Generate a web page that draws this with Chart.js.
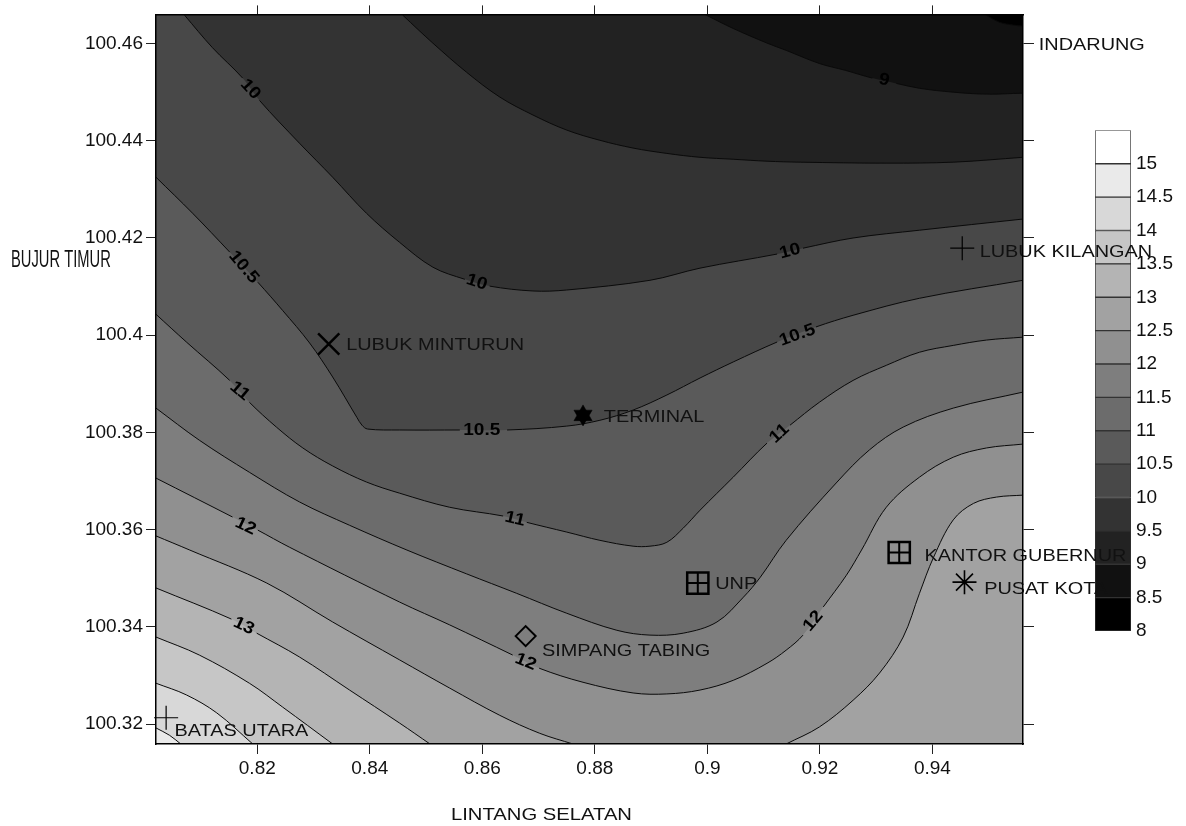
<!DOCTYPE html>
<html>
<head>
<meta charset="utf-8">
<title>Kontur</title>
<script src="https://cdn.jsdelivr.net/npm/chart.js@4"></script>
<style>
  body { margin: 0; background: #fff; }
  #wrap { position: relative; width: 1186px; height: 826px; }
  #legend-bar { position: absolute; left: 1085px; top: 114px; z-index: 0; }
  #contour { position: absolute; left: 0; top: 0; z-index: 1; }
</style>
</head>
<body>
<div id="wrap">
  <canvas id="legend-bar" width="101" height="536"></canvas>
  <canvas id="contour" width="1186" height="826"></canvas>
</div>
<script>
// axis ranges and ticks
const xMin = 0.802, xMax = 0.9561, yMin = 100.3159, yMax = 100.466;
const xTicks = [0.82, 0.84, 0.86, 0.88, 0.9, 0.92, 0.94];
const yTicks = [100.32, 100.34, 100.36, 100.38, 100.4, 100.42, 100.44, 100.46];

// contour lines [x, y]
// lines leaving through the top run on a little above the frame, the clip cuts them
const contour8 = [[0.802, 100.466], [0.9561, 100.466]];
const contour85 = [[0.802, 100.4673], [0.9473, 100.4673], [0.9496, 100.4658], [0.9519, 100.4644], [0.9544, 100.4638], [0.9561, 100.4636]];
const contour9 = [[0.802, 100.4673], [0.8975, 100.4673], [0.8999, 100.4658], [0.9046, 100.4631], [0.9106, 100.4601], [0.914, 100.4586], [0.9199, 100.4559], [0.9245, 100.4545], [0.9293, 100.4529], [0.9336, 100.4518], [0.9377, 100.4508], [0.9437, 100.45], [0.9496, 100.4496], [0.9561, 100.4498]];
const contour95 = [[0.802, 100.4673], [0.8446, 100.4673], [0.8459, 100.4658], [0.8512, 100.4601], [0.8572, 100.4541], [0.8631, 100.449], [0.869, 100.4453], [0.875, 100.4422], [0.8809, 100.4401], [0.8868, 100.4385], [0.8928, 100.4374], [0.8987, 100.4366], [0.9046, 100.4362], [0.9106, 100.4358], [0.9165, 100.4356], [0.9318, 100.4354], [0.9437, 100.4356], [0.9561, 100.4366]];
const contour10 = [[0.802, 100.4673], [0.806, 100.4673], [0.8071, 100.4658], [0.812, 100.4592], [0.8174, 100.4529], [0.8204, 100.4483], [0.8275, 100.4395], [0.8334, 100.4325], [0.8394, 100.4251], [0.8453, 100.4191], [0.8512, 100.414], [0.8569, 100.4115], [0.8613, 100.4101], [0.869, 100.4091], [0.875, 100.4093], [0.8898, 100.4113], [0.8987, 100.4138], [0.9124, 100.4167], [0.917, 100.4179], [0.9259, 100.42], [0.9377, 100.4216], [0.9561, 100.4239]];
const contour105 = [[0.802, 100.4325], [0.8085, 100.4251], [0.8151, 100.4171], [0.8201, 100.4109], [0.8245, 100.4051], [0.8293, 100.3984], [0.8334, 100.3914], [0.8377, 100.3831], [0.8386, 100.3815], [0.8396, 100.3807], [0.8453, 100.3805], [0.856, 100.3805], [0.8644, 100.3805], [0.875, 100.3813], [0.8809, 100.3825], [0.8868, 100.3846], [0.8928, 100.3877], [0.8987, 100.3912], [0.9046, 100.3945], [0.9124, 100.3986], [0.9193, 100.4017], [0.9259, 100.4041], [0.9377, 100.4076], [0.9561, 100.4113]];
const contour11 = [[0.802, 100.4043], [0.8074, 100.3986], [0.8151, 100.3907], [0.8186, 100.3862], [0.8234, 100.3811], [0.8281, 100.3768], [0.8334, 100.3731], [0.8394, 100.3698], [0.8453, 100.3675], [0.8542, 100.3646], [0.8637, 100.3628], [0.8679, 100.3615], [0.875, 100.3595], [0.8809, 100.3578], [0.8868, 100.3566], [0.8898, 100.3566], [0.8928, 100.3574], [0.8957, 100.3603], [0.8987, 100.364], [0.9046, 100.3708], [0.9106, 100.3778], [0.9147, 100.3815], [0.9199, 100.3862], [0.9259, 100.3907], [0.9318, 100.3938], [0.9377, 100.3965], [0.9437, 100.3979], [0.9496, 100.399], [0.9561, 100.3996]];
const contour115 = [[0.802, 100.385], [0.8097, 100.3784], [0.8186, 100.3718], [0.8275, 100.3657], [0.8364, 100.3609], [0.8466, 100.3558], [0.8572, 100.3509], [0.8661, 100.3469], [0.875, 100.3428], [0.8839, 100.3393], [0.8898, 100.3383], [0.8957, 100.3387], [0.9017, 100.341], [0.9064, 100.3461], [0.9094, 100.3502], [0.914, 100.3578], [0.9229, 100.3696], [0.9288, 100.3764], [0.9348, 100.3811], [0.9437, 100.385], [0.9561, 100.3883]];
const contour12 = [[0.802, 100.3706], [0.8156, 100.3626], [0.8201, 100.3599], [0.8257, 100.3564], [0.8453, 100.3451], [0.8542, 100.3404], [0.8654, 100.3342], [0.8701, 100.3315], [0.8779, 100.3286], [0.8868, 100.3264], [0.8928, 100.3262], [0.8987, 100.327], [0.9046, 100.329], [0.9106, 100.3325], [0.914, 100.3352], [0.917, 100.3383], [0.9206, 100.3441], [0.9247, 100.3506], [0.9274, 100.3558], [0.9318, 100.3646], [0.9377, 100.3708], [0.9437, 100.3749], [0.9496, 100.3768], [0.9561, 100.3776]];
const contour125West = [[0.802, 100.3587], [0.808, 100.3558], [0.8217, 100.349], [0.8334, 100.341], [0.8453, 100.3332], [0.8542, 100.3274], [0.8631, 100.3218], [0.8702, 100.3181], [0.8761, 100.3159]];
const contour125East = [[0.914, 100.3159], [0.9199, 100.3194], [0.9259, 100.3249], [0.9306, 100.3305], [0.9348, 100.3379], [0.9377, 100.3469], [0.9402, 100.3543], [0.9437, 100.362], [0.9473, 100.3654], [0.9514, 100.3667], [0.9561, 100.3671]];
const contour13 = [[0.802, 100.348], [0.8154, 100.3416], [0.8199, 100.3387], [0.8275, 100.3338], [0.8364, 100.327], [0.8453, 100.3202], [0.8507, 100.3159]];
const contour135 = [[0.802, 100.3379], [0.8097, 100.3342], [0.8186, 100.3284], [0.8245, 100.3235], [0.8334, 100.3159]];
const contour14 = [[0.802, 100.3284], [0.8074, 100.326], [0.8128, 100.3223], [0.8192, 100.3159]];
const contour145 = [[0.802, 100.3192], [0.8044, 100.3177], [0.8064, 100.3159]];

const contourLines = [contour85, contour9, contour95, contour10, contour105, contour11, contour115, contour12, contour125West, contour125East, contour13, contour135, contour14, contour145];
const contourFills = ['#111111', '#222222', '#333333', '#484848', '#5a5a5a', '#6c6c6c', '#7e7e7e', '#909090', '#a2a2a2', '#a2a2a2', '#b4b4b4', '#c6c6c6', '#d8d8d8', '#eaeaea'];

// labels sitting on the contour lines
const lineLabels = ['10', '10.5', '10', '9', '10', '10.5', '10.5', '11', '11', '11', '12', '12', '12', '13'];
const lineLabelX = [0.8188, 0.8176, 0.859, 0.9314, 0.9147, 0.8599, 0.916, 0.8169, 0.8658, 0.9128, 0.8179, 0.8677, 0.9188, 0.8176];
const lineLabelY = [100.4506, 100.414, 100.4109, 100.4525, 100.4173, 100.3805, 100.4, 100.3885, 100.3622, 100.3798, 100.3607, 100.3328, 100.3412, 100.3402];
const lineLabelAngle = [47, 50, 18, 12, -15, 0, -20, 40, 13, -43, 25, 22, -50, 25];

// place names
const siteNames = ['LUBUK MINTURUN', 'TERMINAL', 'UNP', 'KANTOR GUBERNUR', 'PUSAT KOTA', 'SIMPANG TABING', 'LUBUK KILANGAN', 'BATAS UTARA', 'INDARUNG'];
const siteNameX = [0.8358, 0.8816, 0.9014, 0.9386, 0.9492, 0.8706, 0.9484, 0.8053, 0.9589];
const siteNameY = [100.3979, 100.3831, 100.3488, 100.3546, 100.3478, 100.335, 100.4171, 100.3186, 100.4597];

// place markers
const xMarks = [{x: 0.8327, y: 100.3982}];
const hexMarks = [{x: 0.8779, y: 100.3835}, {x: 0.8779, y: 100.3835}];
const boxMarks = [{x: 0.8983, y: 100.349}, {x: 0.9341, y: 100.3553}];
const starMarks = [{x: 0.9457, y: 100.3492}];
const diamondMarks = [{x: 0.8677, y: 100.3381}];
const plusMarks = [{x: 0.9453, y: 100.4179}, {x: 0.8038, y: 100.3213}];

// colour bar
const barEdges = [8, 8.5, 9, 9.5, 10, 10.5, 11, 11.5, 12, 12.5, 13, 13.5, 14, 14.5, 15, 15.5];
const barColors = ['#000000', '#111111', '#222222', '#333333', '#484848', '#5a5a5a', '#6c6c6c', '#7e7e7e', '#909090', '#a2a2a2', '#b4b4b4', '#c6c6c6', '#d8d8d8', '#eaeaea', '#ffffff'];
const barTicks = [8, 8.5, 9, 9.5, 10, 10.5, 11, 11.5, 12, 12.5, 13, 13.5, 14, 14.5, 15];

const tickFont = {family: '"Liberation Sans", Arial, sans-serif', size: 19};

function toPoints(pairs) {
  return pairs.map(function(p) { return {x: p[0], y: p[1]}; });
}

// text stretched sideways, the picture's text is wider than the font
function drawWideText(ctx, text, x, y, size, stretch, weight) {
  ctx.save();
  ctx.translate(x, y);
  ctx.scale(stretch, 1);
  ctx.font = (weight || 'normal') + ' ' + size + 'px "Liberation Sans", Arial, sans-serif';
  ctx.textBaseline = 'middle';
  ctx.fillText(text, 0, 0);
  ctx.restore();
}

const textPlugin = {
  id: 'contourText',
  afterDatasetsDraw(chart) {
    const ctx = chart.ctx;
    const xs = chart.scales.x;
    const ys = chart.scales.y;
    ctx.save();
    ctx.fillStyle = '#000';
    ctx.textAlign = 'center';
    lineLabels.forEach(function(text, i) {
      ctx.save();
      ctx.translate(xs.getPixelForValue(lineLabelX[i]), ys.getPixelForValue(lineLabelY[i]));
      ctx.rotate(lineLabelAngle[i] * Math.PI / 180);
      ctx.scale(1.12, 1);
      ctx.font = 'bold 17px "Liberation Sans", Arial, sans-serif';
      ctx.textBaseline = 'middle';
      ctx.fillText(text, 0, 0);
      ctx.restore();
    });
    ctx.textAlign = 'left';
    ctx.fillStyle = '#111';
    siteNames.forEach(function(name, i) {
      drawWideText(ctx, name, xs.getPixelForValue(siteNameX[i]), ys.getPixelForValue(siteNameY[i]), 17, 1.17);
    });
    // axis titles
    drawWideText(ctx, 'BUJUR TIMUR', 11, 261, 23, 0.64);
    drawWideText(ctx, 'LINTANG SELATAN', 451, 815, 17, 1.19);
    ctx.restore();
  }
};

// the line stops where a label sits on it
function gapAtLabel(seg) {
  const chart = seg.chart;
  const mx = (seg.p0.x + seg.p1.x) / 2;
  const my = (seg.p0.y + seg.p1.y) / 2;
  for (let i = 0; i < lineLabels.length; i++) {
    const lx = chart.scales.x.getPixelForValue(lineLabelX[i]);
    const ly = chart.scales.y.getPixelForValue(lineLabelY[i]);
    if (Math.hypot(mx - lx, my - ly) < 8) {
      return 'transparent';
    }
  }
  return undefined;
}

const datasets = [];
// dark ground first, each fill paints over the one before
datasets.push({
  data: toPoints(contour8), showLine: true, fill: 'start', backgroundColor: '#000000',
  borderWidth: 0, pointRadius: 0, order: 200
});
contourLines.forEach(function(line, i) {
  datasets.push({
    data: toPoints(line), showLine: true, fill: 'start', backgroundColor: contourFills[i],
    borderWidth: 0, pointRadius: 0, tension: 0.35, order: 100 - i
  });
});
contourLines.forEach(function(line) {
  datasets.push({
    data: toPoints(line), showLine: true, fill: false, borderColor: '#0a0a0a', borderWidth: 1,
    pointRadius: 0, tension: 0.35, order: 5,
    segment: {borderColor: gapAtLabel}
  });
});

function markerSet(points, style, radius, width, extra) {
  return Object.assign({
    data: points, showLine: false, pointStyle: style, pointRadius: radius,
    pointBorderWidth: width, pointBorderColor: '#000', pointBackgroundColor: 'transparent',
    clip: false, order: 1
  }, extra || {});
}
datasets.push(markerSet(xMarks, 'crossRot', 15, 2.5));
datasets.push(markerSet(hexMarks, 'triangle', 10.5, 0.5, {pointBackgroundColor: '#000', pointRotation: [0, 180]}));
datasets.push(markerSet(boxMarks, 'rect', 15, 2.5));
datasets.push(markerSet(boxMarks, 'cross', 10, 2));
datasets.push(markerSet(starMarks, 'star', 12, 1.6));
datasets.push(markerSet(diamondMarks, 'rectRot', 10, 2));
datasets.push(markerSet(plusMarks, 'cross', 12, 1.2));

function fixedTicks(values) {
  return function(scale) {
    scale.ticks = values.map(function(v) { return {value: v}; });
  };
}
function sideAxis(position, axis, fit, tickValues, tickLength, showLabels) {
  return {
    type: 'linear',
    position: position,
    axis: axis,
    min: axis === 'x' ? xMin : yMin,
    max: axis === 'x' ? xMax : yMax,
    afterBuildTicks: fixedTicks(tickValues),
    afterFit: fit,
    grid: {drawOnChartArea: false, drawTicks: true, tickLength: tickLength, color: '#222', z: 1},
    border: {display: true, color: '#000', width: 1.5, z: 1},
    ticks: {
      display: showLabels, padding: 3, color: '#111', font: tickFont,
      autoSkip: false, maxRotation: 0,
      callback: function(v) { return String(v); }
    }
  };
}

new Chart(document.getElementById('contour').getContext('2d'), {
  type: 'scatter',
  data: {datasets: datasets},
  plugins: [textPlugin],
  options: {
    responsive: false,
    animation: false,
    layout: {padding: 0, autoPadding: false},
    plugins: {legend: {display: false}, tooltip: {enabled: false}, title: {display: false}},
    scales: {
      x: sideAxis('bottom', 'x', function(s) { s.height = 82; }, xTicks, 10, true),
      y: sideAxis('left', 'y', function(s) { s.width = 156; }, yTicks, 10, true),
      x2: sideAxis('top', 'x', function(s) { s.height = 14; }, xTicks, 9, false),
      y2: sideAxis('right', 'y', function(s) { s.width = 163; }, yTicks, 11, false)
    }
  }
});

// colour bar on its own canvas under the main one, the place names run over it
new Chart(document.getElementById('legend-bar').getContext('2d'), {
  type: 'bar',
  data: {
    labels: [''],
    datasets: barColors.map(function(color, i) {
      return {
        data: [[barEdges[i], barEdges[i + 1]]],
        backgroundColor: color,
        borderColor: '#333',
        borderWidth: 1,
        borderSkipped: false,
        grouped: false,
        barPercentage: 1,
        categoryPercentage: 1
      };
    })
  },
  options: {
    responsive: false,
    animation: false,
    layout: {padding: {left: 10, top: 4, bottom: 19, right: 0}, autoPadding: false},
    plugins: {legend: {display: false}, tooltip: {enabled: false}},
    scales: {
      x: {display: false},
      y: {
        position: 'right',
        min: 8,
        max: 15.5,
        afterBuildTicks: fixedTicks(barTicks),
        afterFit: function(s) { s.width = 55; },
        grid: {display: false, drawTicks: false},
        border: {display: false},
        ticks: {
          padding: 5, color: '#111', font: tickFont, autoSkip: false,
          callback: function(v) { return String(v); }
        }
      }
    }
  }
});
</script>
</body>
</html>
